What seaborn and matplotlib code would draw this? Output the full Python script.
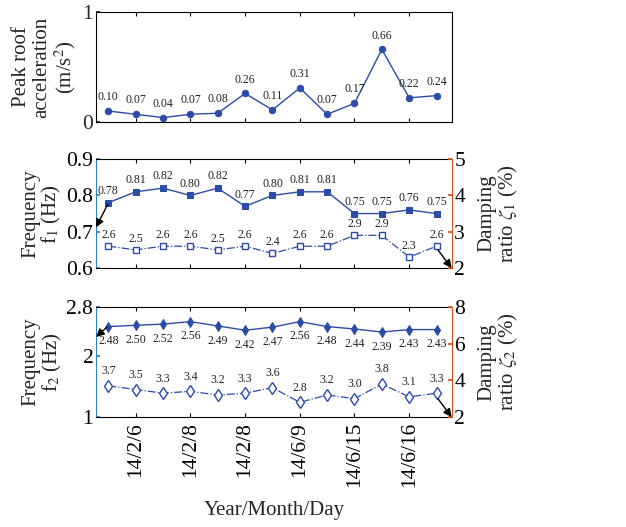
import matplotlib
matplotlib.use("Agg")
import matplotlib.pyplot as plt
import numpy as np
import pandas as pd
import seaborn as sns

# ---- data -------------------------------------------------------------
idx = list(range(13))
tick_pos = [1, 3, 5, 7, 9, 11]
tick_labels = ["14/2/6", "14/2/8", "14/2/8", "14/6/9", "14/6/15", "14/6/16"]

peak_acc = [0.10, 0.07, 0.04, 0.07, 0.08, 0.26, 0.11, 0.31, 0.07, 0.17, 0.66, 0.22, 0.24]
f1 = [0.78, 0.81, 0.82, 0.80, 0.82, 0.77, 0.80, 0.81, 0.81, 0.75, 0.75, 0.76, 0.75]
zeta1 = [2.6, 2.5, 2.6, 2.6, 2.5, 2.6, 2.4, 2.6, 2.6, 2.9, 2.9, 2.3, 2.6]
f2 = [2.48, 2.50, 2.52, 2.56, 2.49, 2.42, 2.47, 2.56, 2.48, 2.44, 2.39, 2.43, 2.43]
zeta2 = [3.7, 3.5, 3.3, 3.4, 3.2, 3.3, 3.6, 2.8, 3.2, 3.0, 3.8, 3.1, 3.3]

df = pd.DataFrame({"idx": idx, "acc": peak_acc, "f1": f1, "z1": zeta1,
                   "f2": f2, "z2": zeta2})

# ---- style ------------------------------------------------------------
sns.set_theme(style="ticks")
plt.rcParams["font.family"] = ["Liberation Serif", "DejaVu Serif"]
plt.rcParams["mathtext.fontset"] = "stix"
plt.rcParams["axes.linewidth"] = 0.8

LINE = "#2c4ca8"
LEFT_C = "#2a86c2"
RIGHT_C = "#d9531e"
TICK_FS = 15.5
LAB_FS = 15
ANN_FS = 8.5

fig = plt.figure(figsize=(6.26, 5.27), dpi=100)
L, W = 0.1534, 0.568
ax1 = fig.add_axes([L, 0.7685, W, 0.2085])
ax2 = fig.add_axes([L, 0.4915, W, 0.2065])
ax3 = fig.add_axes([L, 0.2087, W, 0.2088])

XLIM = (-0.45, 12.55)


def base_axes(ax):
    ax.set_xlim(*XLIM)
    ax.set_xticks(tick_pos)
    ax.tick_params(axis="x", direction="in", top=True, bottom=True,
                   length=3, width=0.8, colors="black")
    ax.tick_params(axis="y", direction="in", labelsize=TICK_FS, length=3,
                   pad=2)
    ax.set_xlabel("")
    for s in ax.spines.values():
        s.set_visible(True)
        s.set_color("black")


def label_points(ax, xs, ys, dy, fmt):
    for x, y in zip(xs, ys):
        ax.annotate(fmt.format(y), (x, y), xytext=(0, dy),
                    textcoords="offset points", ha="center",
                    va="center", fontsize=ANN_FS, color="#222222")


# ---- panel 1: peak roof acceleration ----------------------------------
sns.lineplot(data=df, x="idx", y="acc", ax=ax1, color=LINE, lw=1.0,
             marker="o", markersize=4.6, markeredgecolor=LINE)
base_axes(ax1)
ax1.set_ylim(0, 1)
ax1.set_yticks([0, 1])
ax1.set_yticklabels(["0", "1"])
ax1.set_xticklabels([])
ax1.set_ylabel("Peak roof\nacceleration\n(m/s$^2$)", fontsize=LAB_FS,
               linespacing=1.1, labelpad=3)
label_points(ax1, idx, peak_acc, 10, "{:.2f}")


def twin_panel(ax, fvals, fcol, zcol, flim, fticks, zlim, zticks,
               fmarker, zmarker, fms, zms, flabel, zlabel, fdy, zdy, ffmt):
    axr = ax.twinx()
    sns.lineplot(data=df, x="idx", y=fcol, ax=ax, color=LINE, lw=1.0,
                 marker=fmarker, markersize=fms, markeredgecolor=LINE)
    sns.lineplot(data=df, x="idx", y=zcol, ax=axr, color=LINE, lw=0.9,
                 linestyle="-.", marker=zmarker, markersize=zms,
                 markerfacecolor="white", markeredgecolor=LINE,
                 markeredgewidth=1.0)
    base_axes(ax)
    ax.set_ylim(*flim)
    ax.set_yticks(fticks)
    ax.tick_params(axis="y", colors=LEFT_C, labelcolor="black")
    ax.spines["left"].set_color(LEFT_C)
    ax.spines["right"].set_visible(False)
    axr.set_xlim(*XLIM)
    axr.set_ylim(*zlim)
    axr.set_yticks(zticks)
    axr.tick_params(axis="y", direction="in", length=3, labelsize=TICK_FS,
                    colors=RIGHT_C, labelcolor="black", pad=2)
    for s in ["top", "bottom", "left"]:
        axr.spines[s].set_visible(False)
    axr.spines["right"].set_visible(True)
    axr.spines["right"].set_color(RIGHT_C)
    axr.spines["right"].set_linewidth(0.8)
    ax.set_ylabel(flabel, fontsize=LAB_FS, linespacing=1.0, labelpad=2)
    axr.set_ylabel(zlabel, fontsize=LAB_FS, linespacing=1.0, labelpad=9)
    label_points(ax, idx, df[fcol], fdy, ffmt)
    label_points(axr, idx, df[zcol], zdy, "{:.1f}")
    return axr


# ---- panel 2: first mode ----------------------------------------------
ax2r = twin_panel(ax2, f1, "f1", "z1", (0.6, 0.9), [0.6, 0.7, 0.8, 0.9],
                  (2, 5), [2, 3, 4, 5], "s", "s", 4.2, 3.8,
                  "Frequency\nf$_1$ (Hz)", "Damping\nratio $\\zeta_1$ (%)",
                  8.5, 8, "{:.2f}")
ax2.set_yticklabels(["0.6", "0.7", "0.8", "0.9"])
ax2.set_xticklabels([])
ax2.annotate("", xy=(0.0, 0.712), xycoords=("axes fraction", "data"),
             xytext=(-0.02, 0.776), textcoords="data",
             arrowprops=dict(arrowstyle="-|>", color="black", lw=1.0,
                             mutation_scale=12, shrinkA=0, shrinkB=0))
ax2r.annotate("", xy=(1.0, 2.0), xycoords=("axes fraction", "data"),
              xytext=(12.05, 2.5), textcoords="data",
              arrowprops=dict(arrowstyle="-|>", color="black", lw=1.0,
                              mutation_scale=12, shrinkA=0, shrinkB=0))

# ---- panel 3: second mode ---------------------------------------------
ax3r = twin_panel(ax3, f2, "f2", "z2", (1, 2.8), [1, 2, 2.8],
                  (2, 8), [2, 4, 6, 8], "d", "d", 5.2, 6.0,
                  "Frequency\nf$_2$ (Hz)", "Damping\nratio $\\zeta_2$ (%)",
                  -10.5, 10.5, "{:.2f}")
ax3.set_yticklabels(["1", "2", "2.8"])
ax3.set_xticklabels(tick_labels, rotation=90, fontsize=TICK_FS)
ax3.set_xlabel("Year/Month/Day", fontsize=LAB_FS, labelpad=10)
ax3.annotate("", xy=(0.0, 2.31), xycoords=("axes fraction", "data"),
             xytext=(-0.05, 2.47), textcoords="data",
             arrowprops=dict(arrowstyle="-|>", color="black", lw=1.0,
                             mutation_scale=12, shrinkA=0, shrinkB=0))
ax3r.annotate("", xy=(1.0, 2.0), xycoords=("axes fraction", "data"),
              xytext=(12.05, 3.0), textcoords="data",
              arrowprops=dict(arrowstyle="-|>", color="black", lw=1.0,
                              mutation_scale=12, shrinkA=0, shrinkB=0))

fig.savefig("out.png", dpi=100, facecolor="white")
